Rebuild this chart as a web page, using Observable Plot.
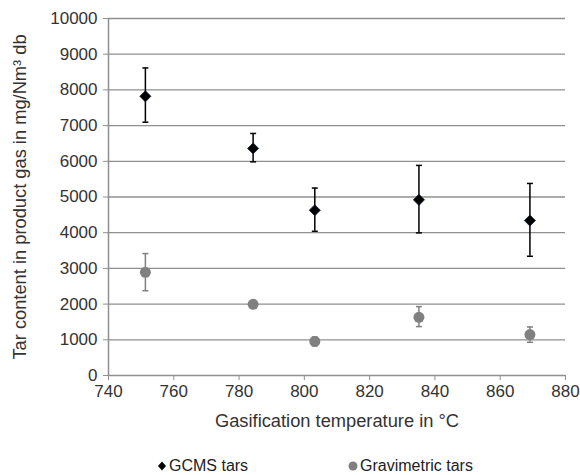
<!DOCTYPE html>
<html>
<head>
<meta charset="utf-8">
<script src="https://cdn.jsdelivr.net/npm/d3@7"></script>
<script src="https://cdn.jsdelivr.net/npm/@observablehq/plot@0.6"></script>
<style>
  html, body { margin: 0; padding: 0; background: #fff; }
  body { width: 580px; height: 475px; overflow: hidden; font-family: "Liberation Sans", Arial, sans-serif; }
  #chart svg { display: block; }
  #legend { position: relative; height: 35px; font-size: 16px; color: #222; }
  #legend .item { position: absolute; top: 17px; display: flex; align-items: center; }
  #legend .sym { display: inline-block; margin-right: 2px; }
</style>
</head>
<body>
<div id="chart"></div>
<div id="legend"></div>
<script>
// Data
const temperatures = [751.3, 784.3, 803.2, 835.1, 869.1];
const gcmsTars = [7820, 6360, 4630, 4920, 4340];
const gcmsLow = [7095, 5985, 4040, 3995, 3340];
const gcmsHigh = [8615, 6780, 5250, 5885, 5380];
const gravTars = [2890, 1995, 955, 1630, 1145];
const gravLow = [2375, 1940, 830, 1370, 930];
const gravHigh = [3415, 2050, 1080, 1930, 1360];
const xTicks = [740, 760, 780, 800, 820, 840, 860, 880];
const yTicks = [0, 1000, 2000, 3000, 4000, 5000, 6000, 7000, 8000, 9000, 10000];
const seriesNames = ["GCMS tars", "Gravimetric tars"];
const seriesColors = ["#000000", "#808080"];

const gcms = temperatures.map((t, i) => ({x: t, y: gcmsTars[i], lo: gcmsLow[i], hi: gcmsHigh[i]}));
const grav = temperatures.map((t, i) => ({x: t, y: gravTars[i], lo: gravLow[i], hi: gravHigh[i]}));

const gridColor = "#8f8f8f";
const textColor = "#333333";
const fs = 17;
const labelFs = 18.3;

// horizontal cap symbol for error bars
const capSymbol = {
  draw(context, size) {
    const w = Math.sqrt(size / Math.PI);
    context.moveTo(-w, 0);
    context.lineTo(w, 0);
  }
};

function errorMarks(data, color) {
  return [
    Plot.ruleX(data, {x: "x", y1: "lo", y2: "hi", stroke: color, strokeWidth: 1.5}),
    Plot.dot(data, {x: "x", y: "lo", symbol: capSymbol, r: 3, stroke: color, strokeWidth: 1.5, fill: "none"}),
    Plot.dot(data, {x: "x", y: "hi", symbol: capSymbol, r: 3, stroke: color, strokeWidth: 1.5, fill: "none"})
  ];
}

const chart = Plot.plot({
  width: 580,
  height: 440,
  marginLeft: 108,
  marginRight: 15,
  marginTop: 18,
  marginBottom: 65,
  style: {fontFamily: "'Liberation Sans', Arial, sans-serif", fontSize: fs + "px", color: textColor, background: "#fff"},
  x: {domain: [740, 880]},
  y: {domain: [0, 10000]},
  marks: [
    Plot.ruleY(yTicks.filter(d => d > 0), {stroke: gridColor, strokeWidth: 1.3}),
    Plot.ruleY([0], {stroke: gridColor, strokeWidth: 1.5}),
    Plot.ruleX([740], {stroke: gridColor, strokeWidth: 1.5}),
    Plot.axisY({ticks: yTicks, tickSize: 5, tickPadding: 6, tickFormat: d => String(d), stroke: gridColor, fill: textColor, fontSize: fs,
      label: null}),
    Plot.axisY({ticks: [], tickSize: 0, fill: textColor, fontSize: labelFs,
      label: "Tar content in product gas in mg/Nm³ db", labelAnchor: "center", labelArrow: "none", labelOffset: 96}),
    Plot.axisX({ticks: xTicks, tickSize: 5, tickPadding: 4, tickFormat: d => String(d), stroke: gridColor, fill: textColor, fontSize: fs,
      label: null}),
    Plot.axisX({ticks: [], tickSize: 0, fill: textColor, fontSize: labelFs,
      label: "Gasification temperature in °C", labelAnchor: "center", labelArrow: "none", labelOffset: 51}),
    ...errorMarks(grav, seriesColors[1]),
    Plot.dot(grav, {x: "x", y: "y", r: 5.5, fill: seriesColors[1], stroke: "none"}),
    ...errorMarks(gcms, seriesColors[0]),
    Plot.dot(gcms, {x: "x", y: "y", symbol: "diamond2", r: 5, fill: seriesColors[0], stroke: "#10203a", strokeWidth: 0.8})
  ]
});
document.getElementById("chart").appendChild(chart);

// legend
const legend = document.getElementById("legend");
const legendX = [157, 348];
seriesNames.forEach((name, i) => {
  const item = document.createElement("div");
  item.className = "item";
  item.style.left = legendX[i] + "px";
  const sym = document.createElementNS("http://www.w3.org/2000/svg", "svg");
  sym.setAttribute("width", 10);
  sym.setAttribute("height", 10);
  sym.setAttribute("class", "sym");
  if (i === 0) {
    const p = document.createElementNS("http://www.w3.org/2000/svg", "path");
    p.setAttribute("d", "M5,0.5L9,5L5,9.5L1,5Z");
    p.setAttribute("fill", seriesColors[0]);
    sym.appendChild(p);
  } else {
    const c = document.createElementNS("http://www.w3.org/2000/svg", "circle");
    c.setAttribute("cx", 5); c.setAttribute("cy", 5); c.setAttribute("r", 4.5);
    c.setAttribute("fill", seriesColors[1]);
    sym.appendChild(c);
  }
  item.appendChild(sym);
  const label = document.createElement("span");
  label.textContent = name;
  item.appendChild(label);
  legend.appendChild(item);
});
</script>
</body>
</html>
